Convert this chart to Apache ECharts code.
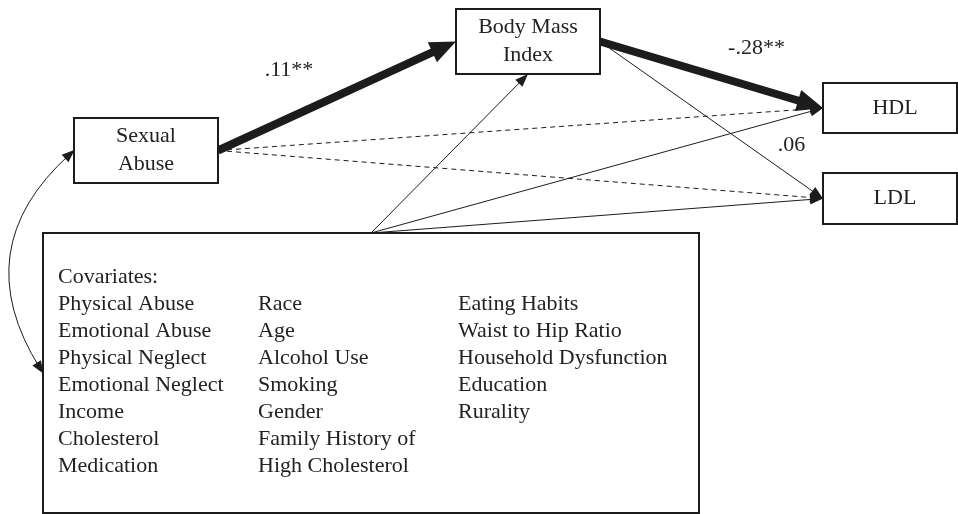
<!DOCTYPE html>
<html>
<head>
<meta charset="utf-8">
<script src="https://cdn.jsdelivr.net/npm/echarts@6/dist/echarts.min.js"></script>
<style>
html,body{margin:0;padding:0;background:#fff;}
#chart{width:958px;height:514px;}
</style>
</head>
<body>
<div id="chart"></div>
<script>
// variables of the path model
const nodeIds = ['sa', 'bmi', 'hdl', 'ldl', 'cov'];
const nodeLabels = ['Sexual\nAbuse', 'Body Mass\nIndex', 'HDL', 'LDL', ''];

// covariates listed in the bottom box
const covTitle = 'Covariates:';
const covCol1 = ['Physical Abuse', 'Emotional Abuse', 'Physical Neglect', 'Emotional Neglect', 'Income', 'Cholesterol', 'Medication'];
const covCol2 = ['Race', 'Age', 'Alcohol Use', 'Smoking', 'Gender', 'Family History of', 'High Cholesterol'];
const covCol3 = ['Eating Habits', 'Waist to Hip Ratio', 'Household Dysfunction', 'Education', 'Rurality'];

// paths (from -> to), the coefficient printed on it and how it is drawn
const pathFrom = ['sa', 'bmi', 'bmi', 'sa', 'sa', 'cov', 'cov', 'cov'];
const pathTo   = ['bmi', 'hdl', 'ldl', 'hdl', 'ldl', 'bmi', 'hdl', 'ldl'];
const pathCoef = ['.11**', '-.28**', '.06', '', '', '', '', ''];
const pathKind = ['thick', 'thick', 'thin', 'dashed', 'dashed', 'thin', 'thin', 'thin'];

// correlation (double headed curve)
const corrFrom = 'sa';
const corrTo = 'cov';

// ---- layout (pixels) ----
const box = {
  sa:  {x: 74,  y: 118, w: 144, h: 65},
  bmi: {x: 456, y: 9,   w: 144, h: 65},
  hdl: {x: 823, y: 83,  w: 134, h: 50, dx: 5},
  ldl: {x: 823, y: 173, w: 134, h: 51, dx: 5},
  cov: {x: 43,  y: 233, w: 656, h: 280}
};
const coefOffset = [[-48, -26], [45, -27], [80, 25]];
const covColX = [15, 215, 415];
const covTop = 31;
const covLine = 27;
const FONT = '"Liberation Serif", "Times New Roman", serif';
const INK = '#1c1c1c';
const arrowBig = [22, 26];
const arrowSmall = [10, 13];

function anchor(id, side) {
  const b = box[id];
  if (side === 'right') return [b.x + b.w, b.y + b.h / 2];
  if (side === 'left') return [b.x, b.y + b.h / 2];
  if (side === 'top') return [b.x + b.w / 2, b.y];
  return [b.x + b.w / 2, b.y + b.h];
}

// pull an end point back so the arrow tip sits on the box edge
function pullBack(p, towards, d) {
  const vx = towards[0] - p[0], vy = towards[1] - p[1];
  const len = Math.sqrt(vx * vx + vy * vy);
  return [p[0] + vx / len * d, p[1] + vy / len * d];
}

function pathCoords(i) {
  const f = pathFrom[i], t = pathTo[i];
  const a = anchor(f, f === 'cov' ? 'top' : 'right');
  const b = anchor(t, (t === 'bmi' && f === 'cov') ? 'bottom' : 'left');
  return [a, b];
}

function linesOf(kind, head) {
  const out = [];
  for (let i = 0; i < pathFrom.length; i++) {
    if (pathKind[i] !== kind) continue;
    const c = pathCoords(i);
    out.push({coords: [c[0], pullBack(c[1], c[0], head[1] / 2)]});
  }
  return out;
}

// curved correlation arrow, same control point formula as the lines series
const curveness = -0.42;
function corrLine() {
  const p1 = anchor(corrFrom, 'left');
  const p2 = anchor(corrTo, 'left');
  const cp = [(p1[0] + p2[0]) / 2 - (p1[1] - p2[1]) * curveness,
              (p1[1] + p2[1]) / 2 - (p2[0] - p1[0]) * curveness];
  return [{coords: [pullBack(p1, cp, arrowSmall[1] / 2 - 1), pullBack(p2, cp, arrowSmall[1] / 2 - 1)]}];
}

const coefIdx = [];
pathCoef.forEach(function (c, i) { if (c) coefIdx.push(i); });

let chart = echarts.init(document.getElementById('chart'));
let option = {
  animation: false,
  backgroundColor: '#fff',
  grid: {left: 0, right: 0, top: 0, bottom: 0},
  xAxis: {type: 'value', min: 0, max: 958, show: false},
  yAxis: {type: 'value', min: 0, max: 514, inverse: true, show: false},
  series: [
    {
      name: 'thick',
      type: 'lines',
      coordinateSystem: 'cartesian2d',
      silent: true,
      z: 2,
      symbol: ['none', 'triangle'],
      symbolSize: [arrowBig, arrowBig],
      lineStyle: {color: INK, width: 8, opacity: 1, curveness: 0},
      data: linesOf('thick', arrowBig)
    },
    {
      name: 'thin',
      type: 'lines',
      coordinateSystem: 'cartesian2d',
      silent: true,
      z: 2,
      symbol: ['none', 'triangle'],
      symbolSize: [arrowSmall, arrowSmall],
      lineStyle: {color: INK, width: 1, opacity: 1, curveness: 0},
      data: linesOf('thin', arrowSmall)
    },
    {
      name: 'dashed',
      type: 'lines',
      coordinateSystem: 'cartesian2d',
      silent: true,
      z: 2,
      symbol: ['none', 'triangle'],
      symbolSize: [arrowSmall, arrowSmall],
      lineStyle: {color: INK, width: 1, opacity: 1, type: [5, 4], curveness: 0},
      data: linesOf('dashed', arrowSmall)
    },
    {
      name: 'corr',
      type: 'lines',
      coordinateSystem: 'cartesian2d',
      silent: true,
      z: 2,
      symbol: ['triangle', 'triangle'],
      symbolSize: [arrowSmall, arrowSmall],
      lineStyle: {color: INK, width: 1, opacity: 1, curveness: curveness},
      data: corrLine()
    },
    {
      name: 'boxes',
      type: 'custom',
      coordinateSystem: 'cartesian2d',
      silent: true,
      z: 3,
      data: nodeIds.map(function (id) { return [box[id].x, box[id].y]; }),
      renderItem: function (params, api) {
        const id = nodeIds[params.dataIndex];
        const b = box[id];
        const p0 = api.coord([b.x, b.y]);
        const p1 = api.coord([b.x + b.w, b.y + b.h]);
        return {
          type: 'group',
          children: [
            {
              type: 'rect',
              shape: {x: p0[0], y: p0[1], width: p1[0] - p0[0], height: p1[1] - p0[1]},
              style: {fill: '#fff', stroke: INK, lineWidth: 2}
            },
            {
              type: 'text',
              style: {
                text: nodeLabels[params.dataIndex],
                x: (p0[0] + p1[0]) / 2 + (b.dx || 0),
                y: (p0[1] + p1[1]) / 2,
                align: 'center',
                verticalAlign: 'middle',
                font: '22px ' + FONT,
                lineHeight: 28,
                fill: '#222'
              }
            }
          ]
        };
      }
    },
    {
      name: 'covariates',
      type: 'custom',
      coordinateSystem: 'cartesian2d',
      silent: true,
      z: 4,
      data: [[0], [1], [2]],
      renderItem: function (params, api) {
        const cols = [[covTitle].concat(covCol1), [''].concat(covCol2), [''].concat(covCol3)];
        const p = api.coord([box.cov.x + covColX[params.dataIndex], box.cov.y + covTop]);
        return {
          type: 'text',
          style: {
            text: cols[params.dataIndex].join('\n'),
            x: p[0],
            y: p[1],
            align: 'left',
            verticalAlign: 'top',
            font: '22px ' + FONT,
            lineHeight: covLine,
            fill: '#222'
          }
        };
      }
    },
    {
      name: 'coefficients',
      type: 'custom',
      coordinateSystem: 'cartesian2d',
      silent: true,
      z: 4,
      data: coefIdx.map(function (i) { return [i]; }),
      renderItem: function (params, api) {
        const i = coefIdx[params.dataIndex];
        const c = pathCoords(i);
        const off = coefOffset[params.dataIndex];
        const p = api.coord([(c[0][0] + c[1][0]) / 2 + off[0], (c[0][1] + c[1][1]) / 2 + off[1]]);
        return {
          type: 'text',
          style: {
            text: pathCoef[i],
            x: p[0],
            y: p[1],
            align: 'center',
            verticalAlign: 'middle',
            font: '22px ' + FONT,
            fill: '#222'
          }
        };
      }
    }
  ]
};
chart.setOption(option);
</script>
</body>
</html>
